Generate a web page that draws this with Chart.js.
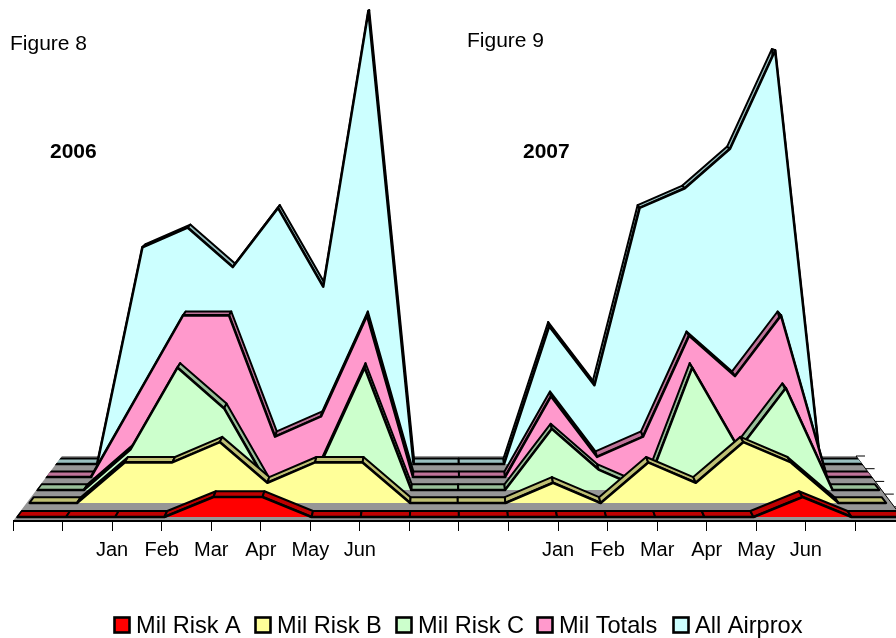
<!DOCTYPE html>
<html>
<head>
<meta charset="utf-8">
<title>Figure 8 and 9</title>
<script src="https://cdn.jsdelivr.net/npm/chart.js@4/dist/chart.umd.min.js"></script>
<style>
    html, body { margin: 0; padding: 0; background: #fff; overflow: hidden; }
    canvas { display: block; }
</style>
</head>
<body>
<canvas id="airproxChart" width="896" height="638"></canvas>
<script>
//////// Data, slots 0-18 along the floor ////////
const monthTicks = ["", "", "Jan", "Feb", "Mar", "Apr", "May", "Jun", "", "", "", "Jan", "Feb", "Mar", "Apr", "May", "Jun", "", ""]
const seriesNames = ["Mil Risk A", "Mil Risk B", "Mil Risk C", "Mil Totals", "All Airprox"]
const milRiskA = [0, 0, 0, 0, 1, 1, 0, 0, 0, 0, 0, 0, 0, 0, 0, 0, 1, 0, 0]
const milRiskB = [0, 0, 2, 2, 3, 1, 2, 2, 0, 0, 0, 1, 0, 2, 1, 3, 2, 0, 0]
const milRiskC = [0, 0, 2, 6, 4, 0, 1, 6, 0, 0, 0, 3, 1, 0, 6, 2, 5, 0, 0]
const milTotals = [0, 0, 4, 8, 8, 2, 3, 8, 0, 0, 0, 4, 1, 2, 7, 5, 8, 0, 0]
const allAirprox = [0, 0, 11, 12, 10, 13, 9, 23, 0, 0, 0, 7, 4, 13, 14, 16, 21, 0, 0]
const seriesValues = [milRiskA, milRiskB, milRiskC, milTotals, allAirprox]

//////// Colours and the fake 3D layout ////////
const faceColors = ["#FF0000", "#FFFF99", "#CCFFCC", "#FF99CC", "#CCFFFF"]
const sideColors = ["#BF0000", "#BFBF73", "#99BF99", "#BF7399", "#99BFBF"]
const FONT = "'Liberation Sans', Arial, sans-serif"

// where each series sits on the floor: slot 0 x, slot width, baseline y, pixels per unit
const planeLeft = [17, 29.4, 37, 45, 52]
const planeStep = [49.1, 47.6, 46.8, 46, 45.2]
const planeBase = [517, 503, 490, 477, 464]
const planeUnit = [20, 20.3, 20.4, 20.2, 19.7]

const AREA_LEFT = 13
const AREA_BOTTOM = 521
const AREA_WIDTH = 883
const FRONT_STEP = 49.55

// back edges of the ribbons run towards one vanishing point
const VANISH_X = 450
const VANISH_Y = -65
const RIBBON_DEPTH = 0.0103

//////// Hidden axes, one pair per series, so every plane has its own scale ////////
let scales = {
    x: {
        type: "linear",
        position: "bottom",
        min: 0,
        max: AREA_WIDTH / FRONT_STEP,
        afterFit: axis => { axis.height = 638 - AREA_BOTTOM },
        border: { display: false },
        grid: { drawOnChartArea: false, tickLength: 10, tickColor: "#000", tickWidth: 1 },
        ticks: {
            stepSize: 1,
            autoSkip: false,
            includeBounds: false,
            maxRotation: 0,
            padding: 7,
            color: "#000",
            font: { family: FONT, size: 20 },
            callback: value => monthTicks[value] || ""
        }
    },
    y: { display: false, min: 0, max: 1 }
}

for (let k = 0; k < seriesNames.length; k++) {
    let xMin = -(planeLeft[k] - AREA_LEFT) / planeStep[k]
    let yMin = -(AREA_BOTTOM - planeBase[k]) / planeUnit[k]
    scales["x" + k] = { type: "linear", display: false, min: xMin, max: xMin + AREA_WIDTH / planeStep[k] }
    scales["y" + k] = { type: "linear", display: false, min: yMin, max: yMin + AREA_BOTTOM / planeUnit[k] }
}

//////// Two datasets per series: the side ribbon first, then the front face ////////
let datasets = []
for (let k = 0; k < seriesNames.length; k++) {
    let points = seriesValues[k].map((v, i) => ({ x: i, y: v }))
    datasets.push({
        label: seriesNames[k],
        data: points,
        xAxisID: "x" + k,
        yAxisID: "y" + k,
        backgroundColor: faceColors[k],
        borderColor: "#000",
        borderWidth: 2.6,
        borderJoinStyle: "round",
        pointRadius: 0,
        tension: 0,
        fill: "origin",
        clip: false
    })
    datasets.push({
        label: seriesNames[k] + " side",
        isSide: true,
        sideColor: sideColors[k],
        data: points,
        xAxisID: "x" + k,
        yAxisID: "y" + k,
        showLine: false,
        pointRadius: 0,
        borderWidth: 0,
        fill: false,
        clip: false
    })
}

// floor outline, extended straight up so the peaks are never cut
let floorPath = ctx => {
    ctx.beginPath()
    ctx.moveTo(13, 521)
    ctx.lineTo(62, 456)
    ctx.lineTo(62, 0)
    ctx.lineTo(856, 0)
    ctx.lineTo(856, 456)
    ctx.lineTo(905, 521)
    ctx.closePath()
}

let backX = x => x + (VANISH_X - x) * RIBBON_DEPTH
let backY = y => y + (VANISH_Y - y) * RIBBON_DEPTH

const depthPlugin = {
    id: "depth",
    beforeDatasetsDraw(chart) {
        let ctx = chart.ctx
        ctx.save()
        ctx.beginPath()
        ctx.moveTo(13, 521)
        ctx.lineTo(62, 456)
        ctx.lineTo(856, 456)
        ctx.lineTo(905, 521)
        ctx.closePath()
        ctx.fillStyle = "#969696"
        ctx.fill()

        ctx.strokeStyle = "#000"
        ctx.lineWidth = 1
        ctx.beginPath()
        ctx.moveTo(856, 456)
        ctx.lineTo(905, 521)
        for (let t = 0; t < 5; t++) {
            ctx.moveTo(856 + t * 9.6, 456 + t * 12.7)
            ctx.lineTo(865 + t * 9.6, 456 + t * 12.7)
        }
        ctx.stroke()

        ctx.lineWidth = 2
        ctx.beginPath()
        ctx.moveTo(13, 521)
        ctx.lineTo(896, 521)
        ctx.stroke()
        ctx.restore()
    },
    beforeDatasetDraw(chart) {
        chart.ctx.save()
        floorPath(chart.ctx)
        chart.ctx.clip()
    },
    afterDatasetDraw(chart, args) {
        let ctx = chart.ctx
        let ds = chart.data.datasets[args.index]
        if (ds.isSide) {
            let pts = args.meta.data
            ctx.fillStyle = ds.sideColor
            ctx.strokeStyle = "#000"
            ctx.lineWidth = 2
            ctx.lineJoin = "round"
            for (let i = 0; i < pts.length - 1; i++) {
                ctx.beginPath()
                ctx.moveTo(pts[i].x, pts[i].y)
                ctx.lineTo(pts[i + 1].x, pts[i + 1].y)
                ctx.lineTo(backX(pts[i + 1].x), backY(pts[i + 1].y))
                ctx.lineTo(backX(pts[i].x), backY(pts[i].y))
                ctx.closePath()
                ctx.fill()
                ctx.stroke()
            }
        }
        ctx.restore()
    },
    afterDraw(chart) {
        let ctx = chart.ctx
        ctx.save()
        ctx.fillStyle = "#000"
        ctx.textBaseline = "middle"
        ctx.textAlign = "left"

        ctx.font = "21px " + FONT
        ctx.fillText("Figure 8", 10, 44)
        ctx.fillText("Figure 9", 467, 41)
        ctx.font = "bold 21px " + FONT
        ctx.fillText("2006", 50, 152)
        ctx.fillText("2007", 523, 152)

        // legend boxes sit closer to their text than the built in legend allows
        const legendBoxX = [114.5, 255.5, 396.5, 537.5, 673.5]
        ctx.font = "23.6px " + FONT
        for (let k = 0; k < seriesNames.length; k++) {
            ctx.fillStyle = faceColors[k]
            ctx.strokeStyle = "#000"
            ctx.lineWidth = 2.6
            ctx.fillRect(legendBoxX[k], 617.5, 15, 15)
            ctx.strokeRect(legendBoxX[k], 617.5, 15, 15)
            ctx.fillStyle = "#000"
            ctx.fillText(seriesNames[k], legendBoxX[k] + 21.5, 626)
        }
        ctx.restore()
    }
}

let ctx = document.getElementById("airproxChart").getContext("2d")
const myChart = new Chart(ctx, {
    type: "line",
    data: { datasets: datasets },
    plugins: [depthPlugin],
    options: {
        responsive: false,
        animation: false,
        layout: { padding: { left: AREA_LEFT, right: 0, top: 0, bottom: 0 } },
        scales: scales,
        plugins: {
            legend: { display: false },
            title: { display: false },
            tooltip: { enabled: false }
        }
    }
})
</script>
</body>
</html>
